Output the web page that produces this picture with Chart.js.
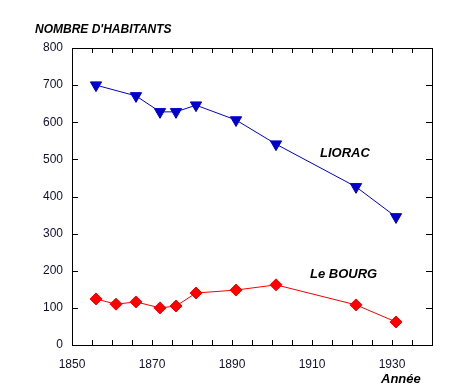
<!DOCTYPE html>
<html>
<head>
<meta charset="utf-8">
<script src="https://cdn.jsdelivr.net/npm/chart.js@4"></script>
<style>
  body { margin: 0; background: #fff; }
  #wrap { width: 475px; height: 390px; }
</style>
</head>
<body>
<div id="wrap"><canvas id="chart" width="475" height="390"></canvas></div>
<script>
// Population data
const liorcYears = [1856, 1866, 1872, 1876, 1881, 1891, 1901, 1921, 1931];
const liorcPop = [700, 671, 628, 628, 646, 606, 541, 426, 345];
const bourgYears = [1856, 1861, 1866, 1872, 1876, 1881, 1891, 1901, 1921, 1931];
const bourgPop = [124, 110, 116, 100, 105, 140, 148, 162, 108, 62];
const xLabels = [1850, 1870, 1890, 1910, 1930];
const yLabels = [0, 100, 200, 300, 400, 500, 600, 700, 800];

const toPoints = (xs, ys) => xs.map((x, i) => ({ x: x, y: ys[i] }));

// inward tick marks + free text labels
const decor = {
    id: 'decor',
    afterDraw(chart) {
        const ctx = chart.ctx;
        const xs = chart.scales.x;
        const ys = chart.scales.y;
        const a = chart.chartArea;
        ctx.save();
        ctx.strokeStyle = '#000';
        ctx.lineWidth = 1;
        ctx.beginPath();
        for (let v = 1855; v < 1940; v += 5) {
            const px = Math.round(xs.getPixelForValue(v)) + 0.5;
            ctx.moveTo(px, a.bottom); ctx.lineTo(px, a.bottom - 5);
            ctx.moveTo(px, a.top); ctx.lineTo(px, a.top + 5);
        }
        yLabels.slice(1, -1).forEach(v => {
            const py = Math.round(ys.getPixelForValue(v)) + 0.5;
            ctx.moveTo(a.left, py); ctx.lineTo(a.left + 6, py);
            ctx.moveTo(a.right, py); ctx.lineTo(a.right - 6, py);
        });
        ctx.stroke();

        ctx.fillStyle = '#000';
        ctx.font = 'italic bold 12px "Liberation Sans", Arial, sans-serif';
        ctx.textBaseline = 'alphabetic';
        ctx.textAlign = 'left';
        ctx.fillText("NOMBRE D'HABITANTS", 35, 33);
        ctx.font = 'italic bold 13px "Liberation Sans", Arial, sans-serif';
        ctx.fillText('LIORAC', 320, 157);
        ctx.fillText('Le BOURG', 310, 278);
        ctx.fillText('Année', 381, 383);
        ctx.restore();
    }
};

const tickFont = { family: '"Liberation Sans", Arial, sans-serif', size: 12 };

new Chart(document.getElementById('chart'), {
    type: 'line',
    data: {
        datasets: [
            {
                label: 'LIORAC',
                data: toPoints(liorcYears, liorcPop),
                borderColor: '#0000cc',
                backgroundColor: '#0000cc',
                borderWidth: 1,
                pointStyle: 'triangle',
                rotation: 180,
                pointRadius: 6.5,
                pointHoverRadius: 6.5
            },
            {
                label: 'Le BOURG',
                data: toPoints(bourgYears, bourgPop),
                borderColor: '#ff0000',
                backgroundColor: '#ff0000',
                borderWidth: 1,
                pointStyle: 'rectRot',
                pointRadius: 6,
                pointHoverRadius: 6
            }
        ]
    },
    options: {
        responsive: false,
        animation: false,
        layout: { padding: { top: 48, right: 43, left: 0, bottom: 0 } },
        plugins: {
            legend: { display: false },
            tooltip: { enabled: false }
        },
        scales: {
            x: {
                type: 'linear',
                min: 1850,
                max: 1940,
                afterFit: s => { s.height = 45; },
                grid: { display: false, drawTicks: false },
                border: { display: true, color: '#000', width: 1 },
                ticks: {
                    stepSize: 10,
                    autoSkip: false,
                    maxRotation: 0,
                    padding: 12,
                    color: '#101030',
                    font: tickFont,
                    callback: v => xLabels.includes(v) ? String(v) : ''
                }
            },
            y: {
                min: 0,
                max: 800,
                afterFit: s => { s.width = 72; },
                grid: { display: false, drawTicks: false },
                border: { display: true, color: '#000', width: 1 },
                ticks: {
                    stepSize: 100,
                    autoSkip: false,
                    padding: 9,
                    color: '#101030',
                    font: tickFont,
                    callback: v => yLabels.includes(v) ? String(v) : ''
                }
            },
            x2: {
                type: 'linear',
                position: 'top',
                min: 1850,
                max: 1940,
                afterFit: s => { s.height = 0; },
                grid: { display: false, drawTicks: false },
                border: { display: true, color: '#000', width: 1 },
                ticks: { display: false }
            },
            y2: {
                position: 'right',
                min: 0,
                max: 800,
                afterFit: s => { s.width = 0; },
                grid: { display: false, drawTicks: false },
                border: { display: true, color: '#000', width: 1 },
                ticks: { display: false }
            }
        }
    },
    plugins: [decor]
});
</script>
</body>
</html>
